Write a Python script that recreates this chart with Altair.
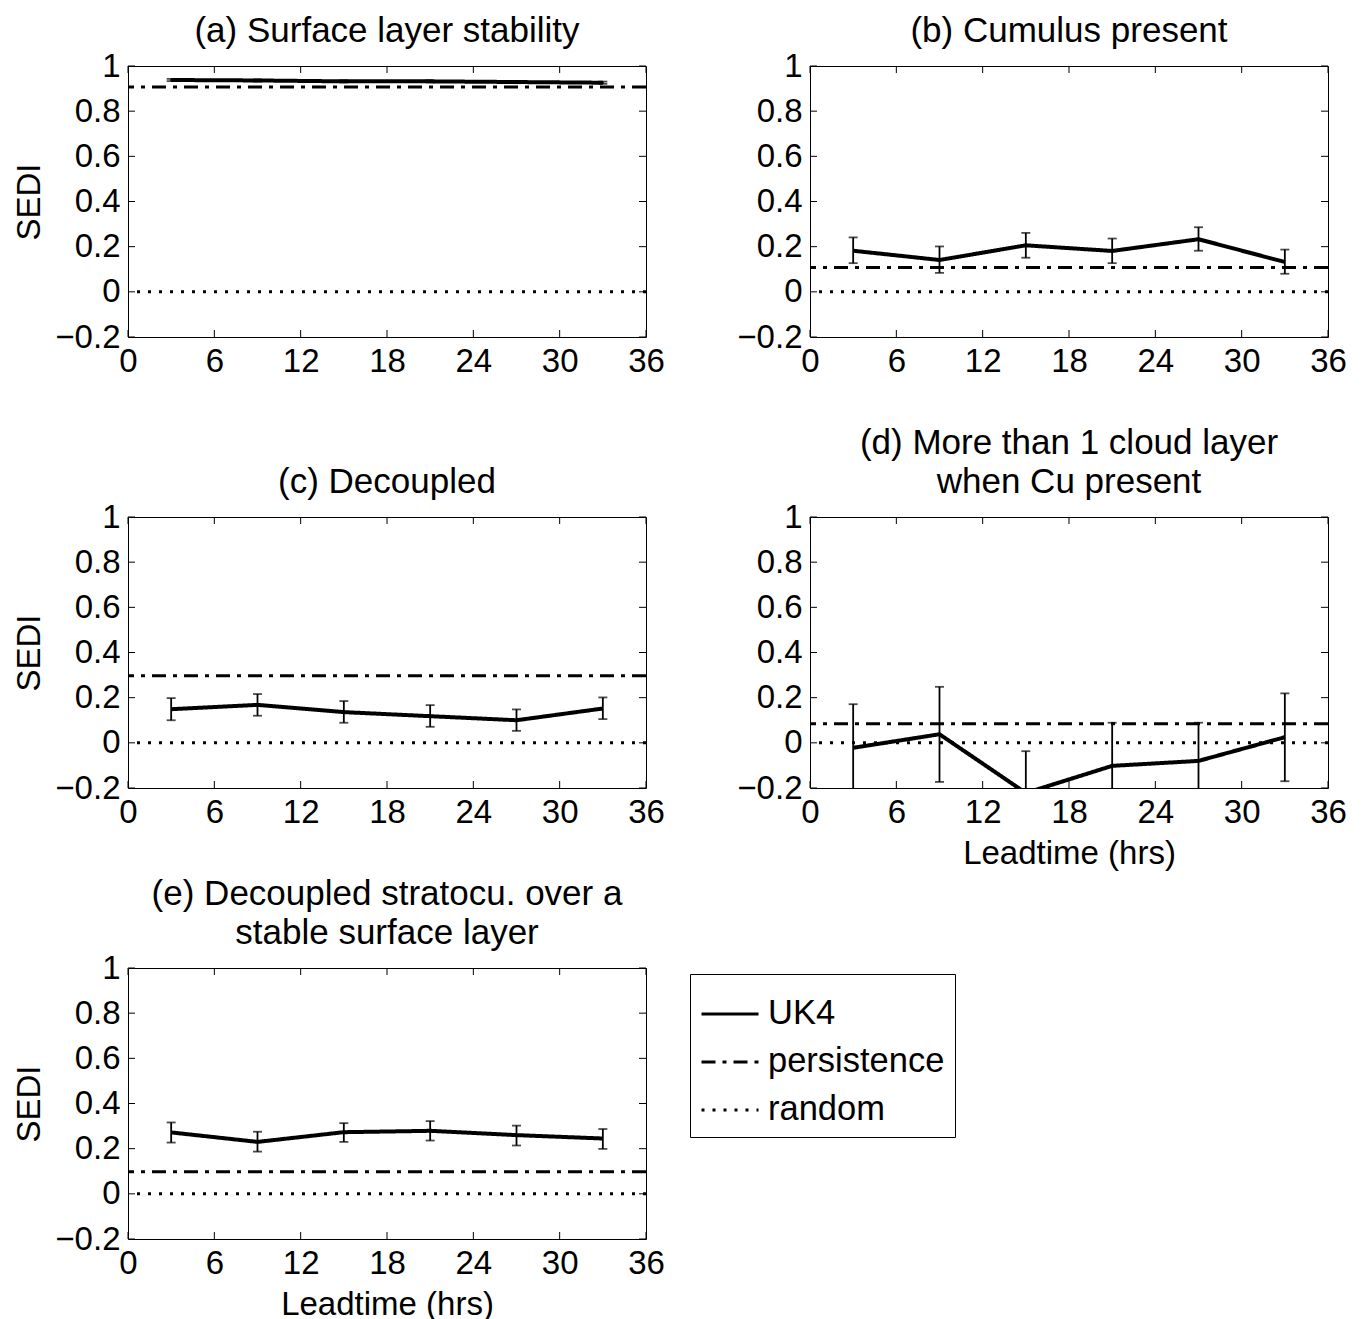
import altair as alt
import pandas as pd

# ---------------- data ----------------
leadtime = [3, 9, 15, 21, 27, 33]
x_ticks = [0, 6, 12, 18, 24, 30, 36]
y_ticks = [-0.2, 0, 0.2, 0.4, 0.6, 0.8, 1]
series_names = ["UK4", "persistence", "random"]
random_level = 0.0

a_sedi = [0.938, 0.936, 0.932, 0.932, 0.929, 0.926]
a_lo = [0.933, 0.931, 0.927, 0.927, 0.924, 0.921]
a_hi = [0.943, 0.941, 0.937, 0.937, 0.934, 0.931]
a_persist = 0.907

b_sedi = [0.182, 0.141, 0.206, 0.181, 0.233, 0.132]
b_lo = [0.127, 0.084, 0.151, 0.127, 0.182, 0.080]
b_hi = [0.241, 0.201, 0.261, 0.236, 0.286, 0.187]
b_persist = 0.108

c_sedi = [0.149, 0.168, 0.136, 0.118, 0.100, 0.152]
c_lo = [0.100, 0.120, 0.089, 0.071, 0.053, 0.105]
c_hi = [0.198, 0.216, 0.185, 0.167, 0.148, 0.201]
c_persist = 0.297

d_sedi = [-0.022, 0.038, -0.222, -0.102, -0.080, 0.025]
d_lo = [-0.215, -0.173, -0.407, -0.293, -0.249, -0.170]
d_hi = [0.171, 0.248, -0.037, 0.089, 0.089, 0.219]
d_persist = 0.084

e_sedi = [0.272, 0.230, 0.273, 0.279, 0.260, 0.245]
e_lo = [0.227, 0.187, 0.230, 0.236, 0.214, 0.199]
e_hi = [0.316, 0.275, 0.313, 0.322, 0.302, 0.287]
e_persist = 0.098

# ---------------- style ----------------
FONT = "Liberation Sans"
W, H = 518, 271
TL = 7

xs = alt.Scale(domain=[0, 36], nice=False, zero=False)
ys = alt.Scale(domain=[-0.2, 1], nice=False, zero=False)
dash_scale = alt.Scale(domain=series_names, range=[[1, 0], [14, 7, 4, 7], [3, 8]])


def panel(title, sedi, lo, hi, persist, ytitle, xtitle, show_legend=False):
    df = pd.DataFrame({"lead": leadtime, "sedi": sedi, "lo": lo, "hi": hi,
                       "series": ["UK4"] * len(leadtime)})
    ref = pd.DataFrame({"y": [persist, random_level], "series": ["persistence", "random"]})
    tx = pd.DataFrame({"t": x_ticks})
    ty = pd.DataFrame({"t": y_ticks})

    xaxis = alt.Axis(values=x_ticks, title=xtitle, labelFlush=False, labelOverlap=False)
    yaxis = alt.Axis(values=y_ticks, title=ytitle, format=".1~f", labelOverlap=False)
    X = lambda f: alt.X(f, scale=xs, axis=xaxis)
    Y = lambda f: alt.Y(f, scale=ys, axis=yaxis)

    if show_legend:
        leg = alt.Legend(orient="none", legendX=562, legendY=6, title=None,
                         symbolType="stroke", symbolSize=3249, symbolStrokeWidth=3,
                         symbolStrokeColor="black", labelFontSize=34.5, labelFont=FONT,
                         labelColor="black", strokeColor="black", fillColor="white",
                         padding=10, rowPadding=1, labelOffset=8, labelLimit=400)
    else:
        leg = None
    sd = alt.StrokeDash("series:N", scale=dash_scale, legend=leg)

    line = alt.Chart(df).mark_line(color="black", strokeWidth=4, clip=True).encode(
        x=X("lead:Q"), y=Y("sedi:Q"), strokeDash=sd)
    rules = alt.Chart(ref).mark_rule(color="black", strokeWidth=3, clip=True).encode(
        y=Y("y:Q"), strokeDash=sd)
    ebar = alt.Chart(df).mark_rule(color="black", strokeWidth=1.8, clip=True).encode(
        x=X("lead:Q"), y=Y("lo:Q"), y2="hi:Q")
    cap_lo = alt.Chart(df).mark_tick(orient="horizontal", size=9, thickness=1.8,
                                     color="black", clip=True).encode(x=X("lead:Q"), y=Y("lo:Q"))
    cap_hi = alt.Chart(df).mark_tick(orient="horizontal", size=9, thickness=1.8,
                                     color="black", clip=True).encode(x=X("lead:Q"), y=Y("hi:Q"))
    tb = alt.Chart(tx).mark_rule(color="black", strokeWidth=1).encode(
        x=X("t:Q"), y=alt.value(H - TL), y2=alt.value(H))
    tt = alt.Chart(tx).mark_rule(color="black", strokeWidth=1).encode(
        x=X("t:Q"), y=alt.value(0), y2=alt.value(TL))
    tl = alt.Chart(ty).mark_rule(color="black", strokeWidth=1).encode(
        y=Y("t:Q"), x=alt.value(0), x2=alt.value(TL))
    tr = alt.Chart(ty).mark_rule(color="black", strokeWidth=1).encode(
        y=Y("t:Q"), x=alt.value(W - TL), x2=alt.value(W))

    return alt.layer(tb, tt, tl, tr, rules, ebar, cap_lo, cap_hi, line).properties(
        width=W, height=H,
        title=alt.TitleParams(text=title, fontSize=35, font=FONT, fontWeight="normal",
                              color="black", anchor="middle", offset=1, lineHeight=39))


pa = panel("(a) Surface layer stability", a_sedi, a_lo, a_hi, a_persist, "SEDI", None)
pb = panel("(b) Cumulus present", b_sedi, b_lo, b_hi, b_persist, None, None)
pc = panel("(c) Decoupled", c_sedi, c_lo, c_hi, c_persist, "SEDI", None)
pd_ = panel(["(d) More than 1 cloud layer", "when Cu present"], d_sedi, d_lo, d_hi,
            d_persist, None, "Leadtime (hrs)")
pe = panel(["(e) Decoupled stratocu. over a", "stable surface layer"], e_sedi, e_lo, e_hi,
           e_persist, "SEDI", "Leadtime (hrs)", show_legend=True)

chart = alt.concat(
    pa, pb, pc, pd_, pe, columns=2, spacing={"row": 180, "column": 164}, bounds="flush"
).resolve_scale(strokeDash="independent").resolve_legend(
    strokeDash="independent"
).properties(background="white").configure_view(
    stroke="black", strokeWidth=1
).configure_axis(
    domain=False, ticks=False, grid=False, labelFontSize=33, labelFont=FONT,
    labelColor="black", labelPadding=8, titleFontSize=33, titleFont=FONT,
    titleFontWeight="normal", titleColor="black", titlePadding=8
)

chart.save("out.html", embed_options={"renderer": "svg", "actions": False})
